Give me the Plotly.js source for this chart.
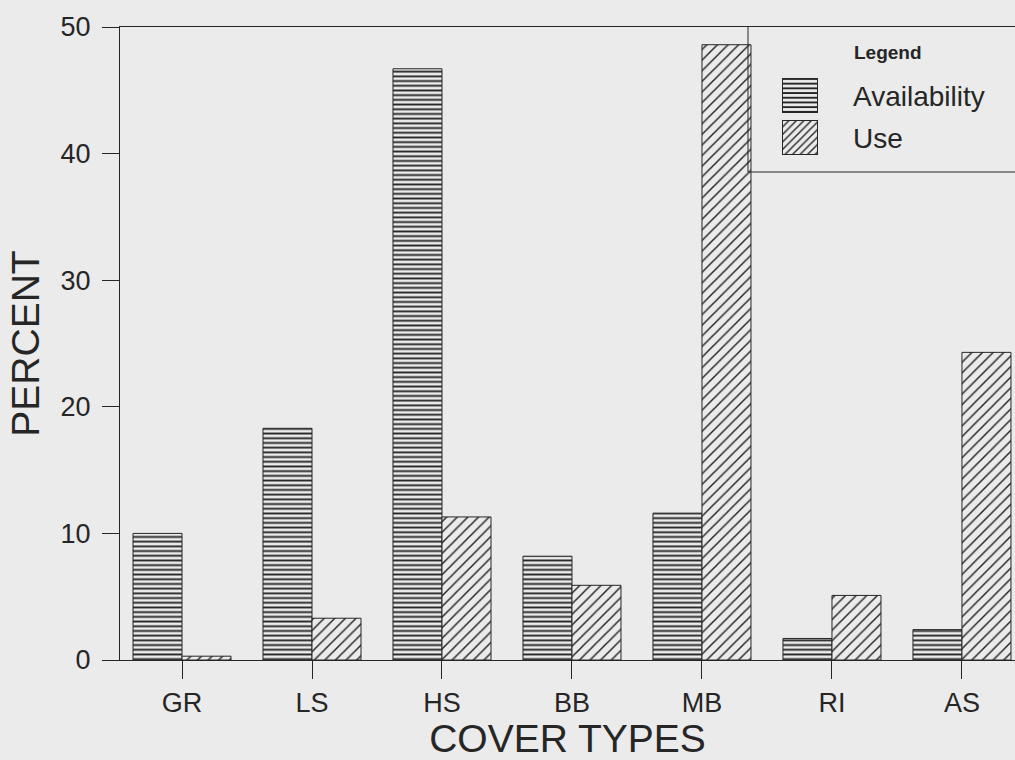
<!DOCTYPE html>
<html>
<head>
<meta charset="utf-8">
<script src="https://cdn.plot.ly/plotly-3.0.1.min.js"></script>
<style>html,body{margin:0;padding:0;background:#ebebeb;}#chart{width:1015px;height:760px;}</style>
</head>
<body>
<div id="chart"></div>
<script>
const categories = ['GR', 'LS', 'HS', 'BB', 'MB', 'RI', 'AS'];
const availability = [10.0, 18.3, 46.7, 8.2, 11.6, 1.7, 2.4];
const use = [0.3, 3.3, 11.3, 5.9, 48.6, 5.1, 24.3];
const seriesNames = ['Availability', 'Use'];
const yTicks = [0, 10, 20, 30, 40, 50];

const ink = '#262626';
const bg = '#ebebeb';
const font = 'Liberation Sans, Arial, sans-serif';

const traces = [
  {
    type: 'bar', name: seriesNames[0], x: categories, y: availability,
    marker: {color: bg, line: {color: ink, width: 1},
      pattern: {shape: '-', size: 4.7, solidity: 0.4, fgcolor: ink, bgcolor: bg, fgopacity: 1}}
  },
  {
    type: 'bar', name: seriesNames[1], x: categories, y: use,
    marker: {color: bg, line: {color: ink, width: 1},
      pattern: {shape: '/', size: 7.5, solidity: 0.2, fgcolor: ink, bgcolor: bg, fgopacity: 1}}
  }
];

const W = 895, H = 633, L = 120, T = 27;
const px = v => (v - L) / W;
const py = v => (T + H - v) / H;

// legend swatches with the same fill patterns as the bars
function swatch(kind) {
  const w = 36, h = 35;
  let pat;
  if (kind === 'h') {
    pat = '<pattern id="p" width="' + w + '" height="4.7" patternUnits="userSpaceOnUse">' +
          '<rect x="0" y="0" width="' + w + '" height="1.9" fill="' + ink + '"/></pattern>';
  } else {
    pat = '<pattern id="p" width="7.5" height="7.5" patternUnits="userSpaceOnUse">' +
          '<path d="M-1,8.5 L8.5,-1 M-1,1 L1,-1 M6.5,8.5 L8.5,6.5" stroke="' + ink + '" stroke-width="1.4"/></pattern>';
  }
  const svg = '<svg xmlns="http://www.w3.org/2000/svg" width="' + w + '" height="' + h + '" viewBox="0 0 ' + w + ' ' + h + '">' +
    '<defs>' + pat + '</defs>' +
    '<rect x="0" y="0" width="' + w + '" height="' + h + '" fill="' + bg + '"/>' +
    '<rect x="0.5" y="0.5" width="' + (w - 1) + '" height="' + (h - 1) + '" fill="url(#p)" stroke="' + ink + '" stroke-width="1"/></svg>';
  return 'data:image/svg+xml;charset=utf-8,' + encodeURIComponent(svg);
}

const layout = {
  width: 1015, height: 760,
  margin: {l: L, r: 0, t: T, b: 100},
  paper_bgcolor: bg, plot_bgcolor: bg,
  font: {family: font, color: ink, size: 27},
  barmode: 'group', bargap: 0.246, bargroupgap: 0,
  showlegend: false,
  xaxis: {
    type: 'category', range: [-0.477, 6.408],
    showline: true, linecolor: ink, linewidth: 1, mirror: true,
    ticks: 'outside', ticklen: 18, tickwidth: 1, tickcolor: ink,
    tickfont: {size: 27}, ticklabelstandoff: 1,
    showgrid: false, zeroline: false, fixedrange: true,
    title: {text: 'COVER TYPES', font: {size: 39}, standoff: 22}
  },
  yaxis: {
    range: [0, 50], tickvals: yTicks, ticktext: yTicks.map(String),
    showline: true, linecolor: ink, linewidth: 1,
    ticks: 'outside', ticklen: 17, tickwidth: 1, tickcolor: ink,
    tickfont: {size: 27}, ticklabelstandoff: 6,
    showgrid: false, zeroline: false, fixedrange: true,
    title: {text: 'PERCENT', font: {size: 39}, standoff: 8}
  },
  shapes: [
    {type: 'line', xref: 'paper', yref: 'paper', x0: px(748), x1: px(748), y0: 1, y1: py(172), line: {color: ink, width: 1}},
    {type: 'line', xref: 'paper', yref: 'paper', x0: px(748), x1: 1.01, y0: py(172), y1: py(172), line: {color: ink, width: 1}}
  ],
  images: [
    {source: swatch('h'), xref: 'paper', yref: 'paper', x: px(782), y: py(78), sizex: 36 / W, sizey: 35 / H, sizing: 'stretch', xanchor: 'left', yanchor: 'top', layer: 'above'},
    {source: swatch('d'), xref: 'paper', yref: 'paper', x: px(782), y: py(120), sizex: 36 / W, sizey: 35 / H, sizing: 'stretch', xanchor: 'left', yanchor: 'top', layer: 'above'}
  ],
  annotations: [
    {text: '<b>Legend</b>', xref: 'paper', yref: 'paper', x: px(852), y: py(52), xanchor: 'left', yanchor: 'middle', showarrow: false, font: {size: 19, color: ink, family: font}},
    {text: seriesNames[0], xref: 'paper', yref: 'paper', x: px(851), y: py(97), xanchor: 'left', yanchor: 'middle', showarrow: false, font: {size: 28, color: ink, family: font}},
    {text: seriesNames[1], xref: 'paper', yref: 'paper', x: px(851), y: py(138), xanchor: 'left', yanchor: 'middle', showarrow: false, font: {size: 28, color: ink, family: font}}
  ]
};

Plotly.newPlot('chart', traces, layout, {displayModeBar: false, staticPlot: true});
</script>
</body>
</html>
